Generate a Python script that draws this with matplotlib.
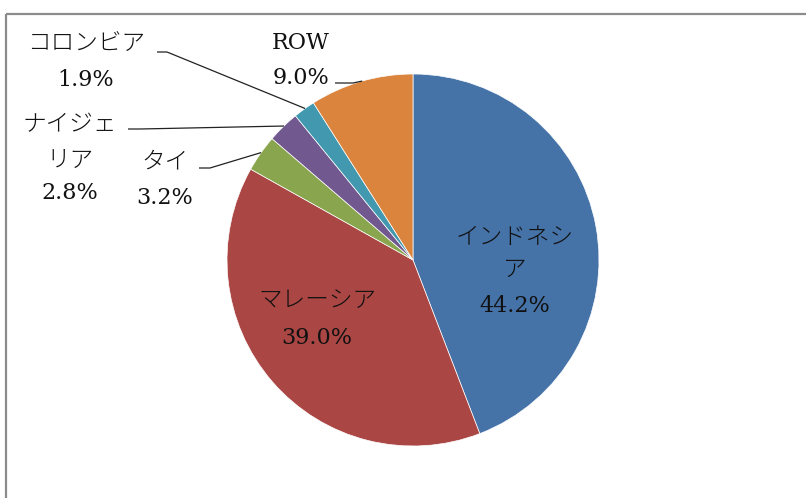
import matplotlib
matplotlib.use("Agg")
import matplotlib.pyplot as plt
from matplotlib.patches import Rectangle
import numpy as np

# Share by country (%)
names = ["インドネシア", "マレーシア", "タイ", "ナイジェリア", "コロンビア", "ROW"]
label_lines = [["インドネシ", "ア"], ["マレーシア"], ["タイ"], ["ナイジェ", "リア"], ["コロンビア"], ["ROW"]]
shares = [44.2, 39.0, 3.2, 2.8, 1.9, 9.0]
colors = ["#4572A7", "#AA4643", "#89A54E", "#71588F", "#4198AF", "#DB843D"]

W, H = 806, 498
fig = plt.figure(figsize=(W / 100, H / 100), dpi=100)
ax = fig.add_axes([0, 0, 1, 1])

# chart frame
ax.add_patch(Rectangle((6, 14), W + 20, H + 20, fill=False, edgecolor="#8c8c8c", lw=1.6))

cx, cy, r = 413, 260, 186
# y axis is inverted, so counterclock=True draws clockwise on screen; start at 12 o'clock
ax.pie(shares, colors=colors, startangle=-90, counterclock=True, center=(cx, cy), radius=r,
       wedgeprops=dict(edgecolor="white", linewidth=0.5), frame=True)
ax.set_xlim(0, W)
ax.set_ylim(H, 0)
ax.set_aspect("equal")
ax.axis("off")

jp = ["Noto Sans CJK JP", "DejaVu Serif"]
num = ["DejaVu Serif", "Noto Sans CJK JP"]
JP_SIZE, NUM_SIZE = 17, 16


def draw_line(x, y, s):
    if s.isascii():
        ax.text(x, y, s, ha="center", va="center", fontsize=NUM_SIZE, family=num, color="#111111")
    else:
        ax.text(x, y, s, ha="center", va="center", fontsize=JP_SIZE, family=jp,
                color="#111111", fontweight="light")


# label positions: centre x, y of each text line (name lines then value)
layout = [
    (515, [237, 270, 306]),
    (317, [301, 338]),
    (165, [162, 198]),
    (70, [125, 160, 193]),
    (86, [43, 80]),
    (301, [43, 78]),
]

for lines, val, (lx, ys) in zip(label_lines, shares, layout):
    for ln, y in zip(lines, ys):
        draw_line(lx, y, ln)
    draw_line(lx, ys[-1], f"{val:.1f}%")

# leader lines for the small outside slices
cum = np.cumsum([0] + shares[:-1])


def edge_point(i):
    frac = (cum[i] + shares[i] / 2) / 100.0
    ang = 2 * np.pi * frac
    return cx + r * np.sin(ang), cy - r * np.cos(ang)


leaders = {
    2: [(199, 168), (210, 168)],
    3: [(128, 129), (140, 129)],
    4: [(157, 52), (167, 52)],
    5: [(335, 83), (353, 83)],
}
for i, pts in leaders.items():
    ex, ey = edge_point(i)
    xs = [p[0] for p in pts] + [ex]
    ys = [p[1] for p in pts] + [ey]
    ax.plot(xs, ys, color="#222222", lw=0.9, solid_capstyle="butt")

fig.savefig("out.png", dpi=100, facecolor="white")
